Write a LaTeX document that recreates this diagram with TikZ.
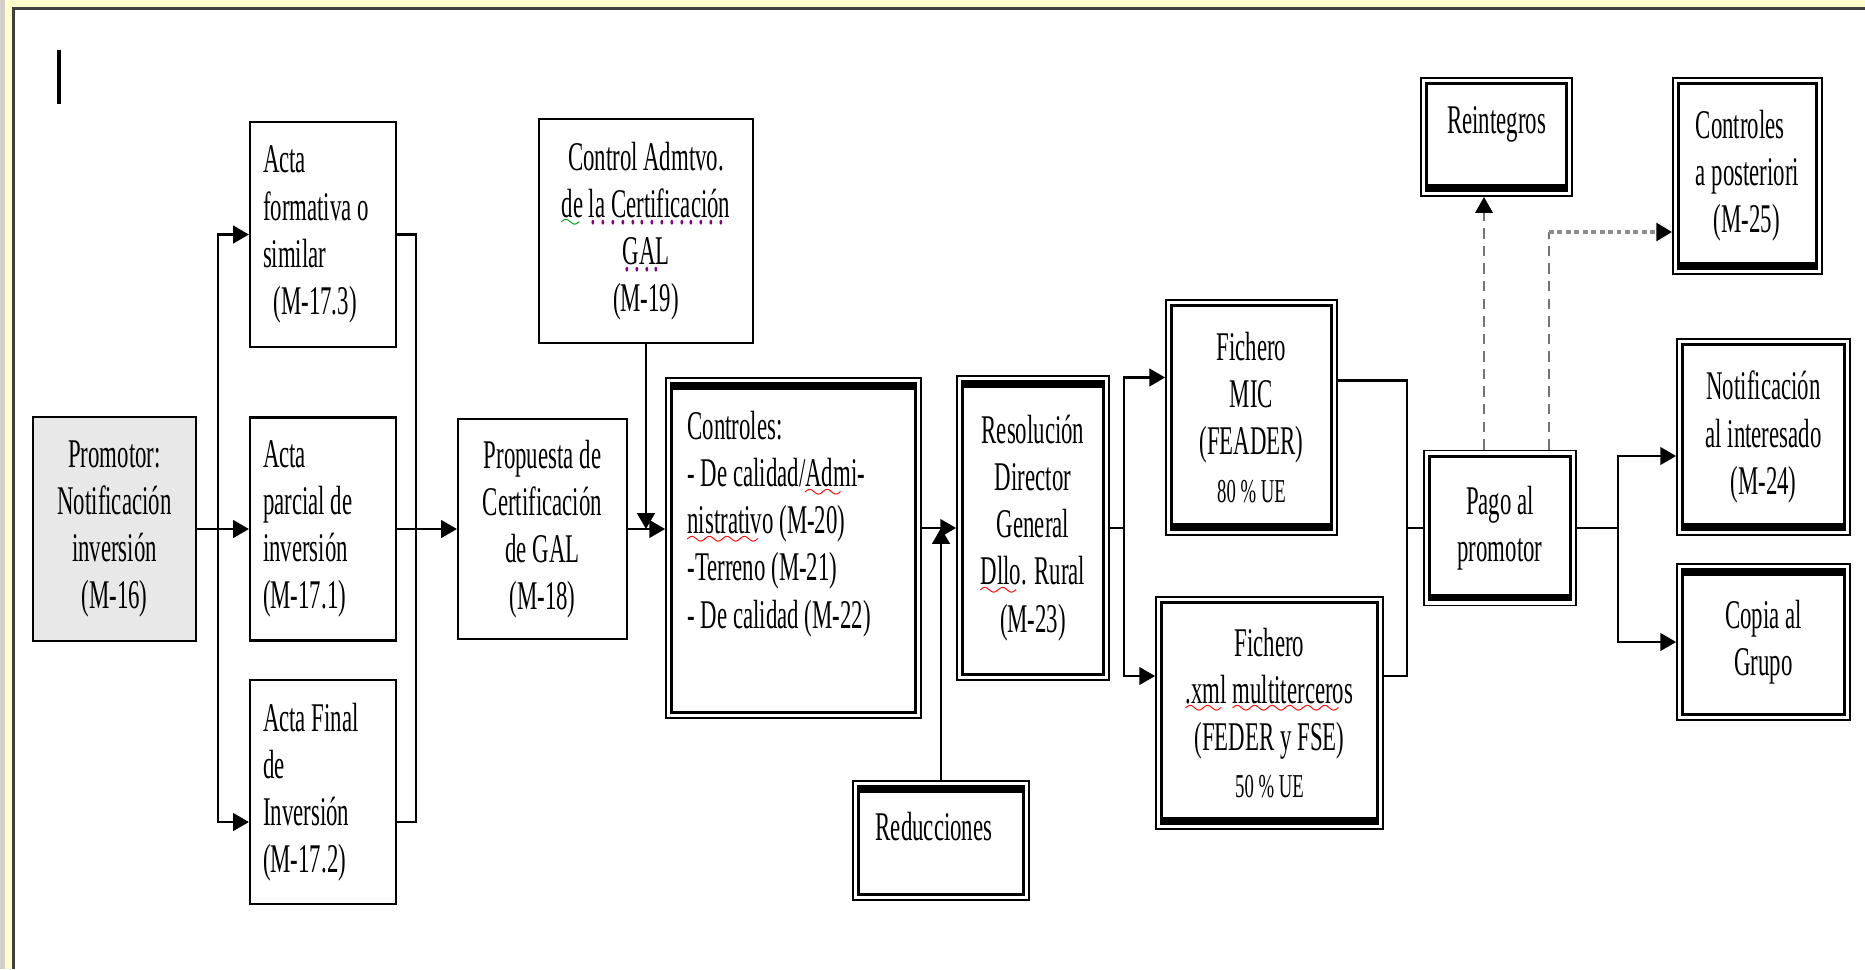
\documentclass[tikz,border=0pt]{standalone}
\usepackage{fontspec}
\setmainfont{Liberation Serif}[FakeStretch=0.56]
\usetikzlibrary{arrows.meta}

\definecolor{bgyellow}{RGB}{255,255,204}
\definecolor{edgegray}{RGB}{212,208,200}
\definecolor{promgray}{RGB}{232,232,232}

% spell-check marks
\font\wavefont=lasy6
\newcommand\markunder[3]{\setbox0\hbox{#3}\leavevmode
  \rlap{\textcolor{#1}{\lower#2\hbox to\wd0{\leaders\hbox{\wavefont\char58}\hfill}}}\box0\relax}
\newcommand\redwave[1]{\markunder{red}{3pt}{#1}}
\newcommand\greenwave[1]{\markunder{green!60!black}{3pt}{#1}}
\newcommand\purpledots[1]{\setbox0\hbox{#1}\leavevmode
  \rlap{\textcolor{violet}{\lower2pt\hbox to\wd0{\leaders\hbox{\kern.05em.\kern.05em}\hfill}}}\box0\relax}

\tikzset{
  box/.style={draw, line width=0.6pt, inner sep=2pt, align=center},
  dtop/.style={draw, line width=0.5pt, inner sep=2pt, align=center,
    path picture={
      \draw[line width=0.9pt] ([shift={(1.6pt,-1.6pt)}]path picture bounding box.north west)
        rectangle ([shift={(-1.6pt,1.6pt)}]path picture bounding box.south east);
      \draw[line width=2pt] ([shift={(1.6pt,-2.4pt)}]path picture bounding box.north west)
        -- ([shift={(-1.6pt,-2.4pt)}]path picture bounding box.north east);}},
  dbot/.style={draw, line width=0.5pt, inner sep=2pt, align=center,
    path picture={
      \draw[line width=0.9pt] ([shift={(1.6pt,-1.6pt)}]path picture bounding box.north west)
        rectangle ([shift={(-1.6pt,1.6pt)}]path picture bounding box.south east);
      \draw[line width=2pt] ([shift={(1.6pt,2.4pt)}]path picture bounding box.south west)
        -- ([shift={(-1.6pt,2.4pt)}]path picture bounding box.south east);}},
  vdash/.style={densely dashed, line width=0.4pt, black!55,
    -{Triangle[length=4.5pt,width=5pt,black]}},
  hdot/.style={densely dotted, line width=1.4pt, black!45,
    -{Triangle[length=4.5pt,width=5pt,black]}}
}

\begin{document}
\begin{tikzpicture}[x=1cm, y=-1cm, line width=0.7pt,
    font=\fontsize{11.6}{13.4}\selectfont,
    >={Triangle[length=4.5pt,width=5pt]}]

    % Page
    \useasboundingbox (0,0) rectangle (18.65,9.69);
    \fill[bgyellow] (0,0) rectangle (18.65,9.69);
    \fill[edgegray] (0,0) rectangle (0.05,9.69);
    \fill[white] (0.135,0.085) rectangle (18.65,9.69);
    \draw[black!75, line width=0.8pt] (0.135,9.69) -- (0.135,0.085) -- (18.65,0.085);

    % Cursor
    \draw[line width=0.9pt] (0.59,0.50) -- (0.59,1.04);

    % Promotor and actas
    \node[box, fill=promgray, minimum width=1.63cm, minimum height=2.24cm] (prom)
        at (1.145,5.29) {Promotor:\\ Notificación\\ inversión\\ (M-16)};
    \node[box, align=flush left, text width=1.2cm, minimum width=1.46cm, minimum height=2.25cm] (actaf)
        at (3.23,2.345) {Acta\\ formativa o\\ similar\\ \hspace*{3pt}(M-17.3)};
    \node[box, align=flush left, text width=1.2cm, minimum width=1.46cm, minimum height=2.23cm] (actap)
        at (3.23,5.29) {Acta\\ parcial de\\ inversión\\ (M-17.1)};
    \node[box, align=flush left, text width=1.2cm, minimum width=1.46cm, minimum height=2.24cm] (actafin)
        at (3.23,7.92) {Acta Final\\ de\\ Inversión\\ (M-17.2)};

    % Certificacion GAL
    \node[box, minimum width=1.69cm, minimum height=2.20cm] (prop)
        at (5.425,5.29) {Propuesta de\\ Certificación\\ de GAL\\ (M-18)};
    \node[box, minimum width=2.14cm, minimum height=2.24cm] (ctrlgal)
        at (6.46,2.31) {Control Admtvo.\\ \greenwave{de} \purpledots{la Certificación}\\ \purpledots{GAL}\\ (M-19)};

    % Controles and Resolucion
    \node[dtop, minimum width=2.55cm, minimum height=3.40cm] (ctl) at (7.935,5.48) {};
    \node[align=flush left, text width=2.2cm] (ctltext) at ([xshift=0.04cm, yshift=0.24cm]ctl.center)
        {Controles:\\ - De calidad/\redwave{Admi}-\\ \redwave{nistrativo} (M-20)\\ -Terreno (M-21)\\ - De calidad (M-22)};
    \node[dtop, minimum width=1.52cm, minimum height=3.04cm] (res)
        at (10.33,5.28) {Resolución\\ Director\\ General\\ \redwave{Dllo}. Rural\\ (M-23)};
    \node[dtop, minimum width=1.76cm, minimum height=1.19cm] (red) at (9.41,8.405) {};
    \node (redtext) at ([xshift=-0.07cm, yshift=0.14cm]red.center) {Reducciones};

    % Ficheros
    \node[dbot, minimum width=1.71cm, minimum height=2.35cm] (mic)
        at (12.515,4.175) {Fichero\\ MIC\\ (FEADER)\\ {\fontsize{9.5}{11}\selectfont 80 \% UE}};
    \node[dbot, minimum width=2.27cm, minimum height=2.32cm] (xml)
        at (12.695,7.13) {Fichero\\ \redwave{.xml} \redwave{multiterceros}\\ (FEDER y FSE)\\ {\fontsize{9.5}{11}\selectfont 50 \% UE}};

    % Pago and after
    \node[dbot, minimum width=1.52cm, minimum height=1.55cm] (pago)
        at (15.00,5.28) {Pago al\\ promotor};
    \node[dbot, minimum width=1.51cm, minimum height=1.18cm] (rein) at (14.965,1.37) {};
    \node (reintext) at ([yshift=0.13cm]rein.center) {Reintegros};
    \node[dbot, align=left, minimum width=1.49cm, minimum height=1.96cm] (cpost)
        at (17.475,1.76) {Controles\\ a posteriori\\ \hspace*{0.18cm}(M-25)};
    \node[dbot, minimum width=1.73cm, minimum height=1.96cm] (notif)
        at (17.635,4.37) {Notificación\\ al interesado\\ (M-24)};
    \node[dtop, minimum width=1.73cm, minimum height=1.56cm] (copia)
        at (17.635,6.42) {Copia al\\ Grupo};

    % Junctions
    \coordinate (fA) at (2.18,5.29);
    \coordinate (jA) at (4.16,5.29);
    \coordinate (fB) at (11.24,5.28);
    \coordinate (jB) at (14.07,5.28);
    \coordinate (fC) at (16.18,5.28);
    \coordinate (rA) at (14.84,1.97);
    \coordinate (cP) at (15.49,2.32);

    % Promotor to actas to propuesta
    \draw[->] (prom.east) -- (actap.west);
    \draw[->] (fA) |- (actaf.west);
    \draw[->] (fA) |- ([yshift=-0.3cm]actafin.west);
    \draw (actaf.east) -| (jA);
    \draw ([yshift=-0.3cm]actafin.east) -| (jA);
    \draw[->] (actap.east) -- (prop.west);

    % Propuesta to controles to resolucion
    \draw[->] (prop.east) -- (prop.east -| ctl.west);
    \draw[->] (ctrlgal.south) -- (ctrlgal.south |- prop.east);
    \draw[->] (ctl.east |- res.west) -- (res.west);
    \draw[->] (red.north) -- (red.north |- res.west);

    % Resolucion to ficheros to pago
    \draw (res.east) -- (fB);
    \draw[->] (fB) |- ([yshift=0.4cm]mic.west);
    \draw[->] (fB) |- ([yshift=0.37cm]xml.west);
    \draw ([yshift=0.37cm]mic.east) -| (jB);
    \draw ([yshift=0.37cm]xml.east) -| (jB);
    \draw (jB) -- (pago.west);

    % Pago to notificacion and copia
    \draw (pago.east) -- (fC);
    \draw[->] (fC) |- ([yshift=-0.19cm]notif.west);
    \draw[->] (fC) |- (copia.west);

    % Reintegros and controles a posteriori
    \draw[vdash] (pago.north -| rA) -- (rA);
    \draw[vdash, -] (pago.north -| cP) -- (cP);
    \draw[hdot] (cP) -- (cP -| cpost.west);

\end{tikzpicture}
\end{document}
